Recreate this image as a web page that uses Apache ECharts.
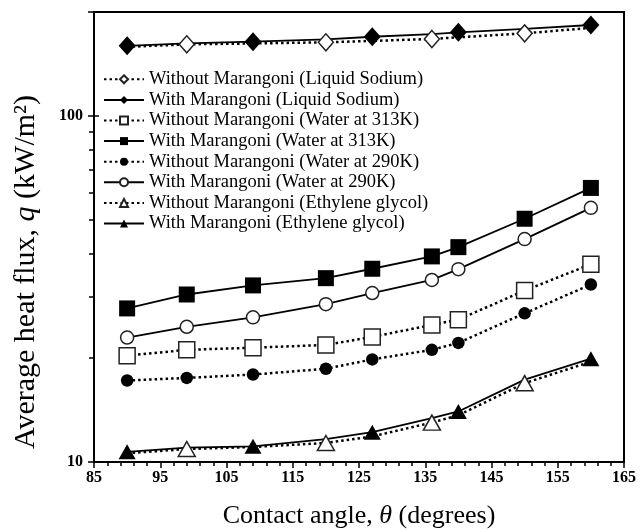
<!DOCTYPE html>
<html>
<head>
<meta charset="utf-8">
<script src="https://cdn.jsdelivr.net/npm/echarts@6/dist/echarts.min.js"></script>
<style>
  html, body { margin: 0; padding: 0; background: #fff; }
  #chart { width: 643px; height: 532px; }
</style>
</head>
<body>
<div id="chart"></div>
<script>
// Contact angles (degrees) shared by every series
const contactAngles = [90, 99, 109, 120, 127, 136, 140, 150, 160];

// Average heat flux q (kW/m²) for each fluid, with and without Marangoni convection
const sodiumWithout  = [158.5, 161.3, 162.2, 163.5, 165.0, 167.1, 169.0, 173.5, 180.0];
const sodiumWith     = [159.7, 162.2, 164.1, 166.7, 169.6, 172.6, 174.7, 178.8, 183.4];
const water313Without = [20.3, 21.1, 21.4, 21.8, 23.0, 24.9, 25.8, 31.3, 37.3];
const water313With    = [27.8, 30.5, 32.4, 34.0, 36.2, 39.3, 41.8, 50.5, 62.0];
const water290Without = [17.2, 17.5, 17.9, 18.6, 19.8, 21.1, 22.1, 26.9, 32.6];
const water290With    = [22.9, 24.6, 26.2, 28.6, 30.8, 33.6, 36.1, 44.1, 54.3];
const glycolWithout  = [10.6, 10.9, 11.05, 11.35, 11.85, 13.0, 13.65, 16.9, 19.5];
const glycolWith     = [10.7, 11.0, 11.1, 11.65, 12.2, 13.4, 14.0, 17.3, 19.9];

// Legend entries, top to bottom
const seriesNames = [
  'Without Marangoni (Liquid Sodium)',
  'With Marangoni (Liquid Sodium)',
  'Without Marangoni (Water at 313K)',
  'With Marangoni (Water at 313K)',
  'Without Marangoni (Water at 290K)',
  'With Marangoni (Water at 290K)',
  'Without Marangoni (Ethylene glycol)',
  'With Marangoni (Ethylene glycol)'
];

// Axis ticks
const xRange = [85, 165];
const xStep = 10;
const yRange = [10, 200];
const yLabelValues = [10, 100];
const yMinorValues = [20, 30, 40, 50, 60, 70, 80, 90];

const FONT = '"Liberation Serif", "Times New Roman", serif';

// Pairs that sit on top of each other show their markers on alternate points
const evenOnly = i => i % 2 === 0;
const oddOnly = i => i % 2 === 1;

function points(values, markAt) {
  return contactAngles.map((x, i) => {
    const item = { value: [x, values[i]] };
    if (markAt && !markAt(i)) item.symbol = 'none';
    return item;
  });
}

function lineSeries(name, values, o) {
  return {
    name: name,
    type: 'line',
    data: points(values, o.markAt),
    color: '#000',
    symbol: o.symbol,
    symbolSize: o.size,
    lineStyle: o.dotted
      ? { color: '#000', width: 2.5, type: [2.5, 3], cap: 'butt' }
      : { color: '#000', width: 1.8, type: 'solid' },
    itemStyle: o.hollow
      ? { color: '#fff', borderColor: '#222', borderWidth: 1.5 }
      : { color: '#000', borderColor: '#000', borderWidth: 0 },
    z: o.z || 2,
    emphasis: { disabled: true },
    animation: false
  };
}

const series = [
  lineSeries(seriesNames[1], sodiumWith, { symbol: 'diamond', size: [17, 19], markAt: evenOnly }),
  lineSeries(seriesNames[0], sodiumWithout, { symbol: 'diamond', size: [15, 17], hollow: true, dotted: true, markAt: oddOnly, z: 3 }),
  lineSeries(seriesNames[2], water313Without, { symbol: 'rect', size: 16, hollow: true, dotted: true }),
  lineSeries(seriesNames[3], water313With, { symbol: 'rect', size: 16 }),
  lineSeries(seriesNames[4], water290Without, { symbol: 'circle', size: 12.5, dotted: true }),
  lineSeries(seriesNames[5], water290With, { symbol: 'circle', size: 13, hollow: true }),
  lineSeries(seriesNames[7], glycolWith, { symbol: 'triangle', size: [17, 15], markAt: evenOnly }),
  lineSeries(seriesNames[6], glycolWithout, { symbol: 'triangle', size: [17, 15], hollow: true, dotted: true, markAt: oddOnly, z: 3 })
];

const tickLine = { color: '#000', width: 1.5 };

const helperAxis = (ticks, inside, length) => ({
  type: 'value',
  min: Math.log10(yRange[0]),
  max: Math.log10(yRange[1]),
  position: 'left',
  axisLine: { show: false },
  axisLabel: { show: false },
  splitLine: { show: false },
  axisTick: { show: true, inside: inside, length: length, lineStyle: tickLine, customValues: ticks.map(Math.log10) }
});

const chart = echarts.init(document.getElementById('chart'), null, { renderer: 'canvas' });

chart.setOption({
  backgroundColor: '#fff',
  animation: false,
  grid: {
    left: 94, right: 19, top: 12, bottom: 70,
    show: true, borderColor: '#000', borderWidth: 2,
    containLabel: false, outerBoundsMode: 'none'
  },
  legend: {
    data: seriesNames,
    orient: 'vertical',
    left: 103, top: 69,
    padding: 0, itemGap: 0,
    itemWidth: 40, itemHeight: 10,
    selectedMode: false,
    textStyle: { fontFamily: FONT, fontSize: 18.5, color: '#000', lineHeight: 20.6 }
  },
  xAxis: {
    type: 'value',
    min: xRange[0], max: xRange[1], interval: xStep,
    axisLine: { show: true, onZero: false, lineStyle: { color: '#000', width: 2 } },
    axisTick: { show: true, length: 6, lineStyle: tickLine },
    minorTick: { show: true, splitNumber: 5, length: 4, lineStyle: tickLine },
    splitLine: { show: false },
    axisLabel: { color: '#000', fontFamily: FONT, fontWeight: 'bold', fontSize: 16, margin: 8 },
    name: '{n|Contact angle, }{i|θ}{n| (degrees)}',
    nameLocation: 'middle',
    nameGap: 41,
    nameTextStyle: {
      rich: {
        n: { fontFamily: FONT, fontSize: 26, color: '#000' },
        i: { fontFamily: FONT, fontSize: 26, color: '#000', fontStyle: 'italic' }
      }
    }
  },
  yAxis: [
    {
      type: 'log', logBase: 10,
      min: yRange[0], max: yRange[1],
      axisLine: { show: true, lineStyle: { color: '#000', width: 2 } },
      axisTick: { show: true, length: 6, lineStyle: tickLine },
      minorTick: { show: false },
      splitLine: { show: false },
      axisLabel: {
        color: '#000', fontFamily: FONT, fontWeight: 'bold', fontSize: 16, margin: 11,
        formatter: v => {
          const r = Math.round(v);
          return yLabelValues.includes(r) ? String(r) : '';
        }
      }
    },
    helperAxis(yMinorValues, false, 5),
    helperAxis(yLabelValues, true, 5)
  ],
  graphic: [{
    type: 'text',
    x: 26, y: 272,
    rotation: Math.PI / 2,
    style: {
      text: '{n|Average heat flux, }{i|q}{n| (kW/m²)}',
      align: 'center',
      verticalAlign: 'middle',
      fill: '#000',
      rich: {
        n: { fontFamily: FONT, fontSize: 30, fill: '#000' },
        i: { fontFamily: FONT, fontSize: 30, fill: '#000', fontStyle: 'italic' }
      }
    }
  }],
  series: series
});
</script>
</body>
</html>
